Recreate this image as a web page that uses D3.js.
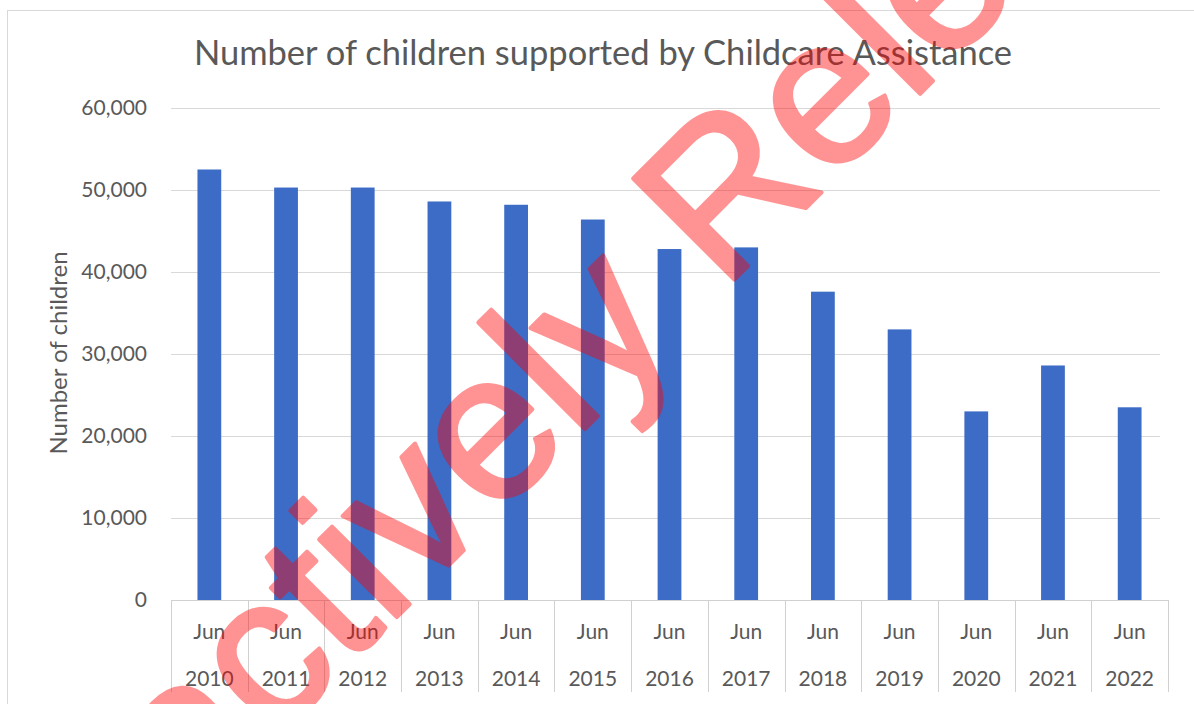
<!DOCTYPE html>
<html>
<head>
<meta charset="utf-8">
<script src="https://cdn.jsdelivr.net/npm/d3@7"></script>
<style>
  html, body { margin: 0; padding: 0; background: #fff; }
  svg { display: block; }
</style>
</head>
<body>
<svg id="chart" width="1194" height="704"></svg>
<script>
// data
const months = ["Jun", "Jun", "Jun", "Jun", "Jun", "Jun", "Jun", "Jun", "Jun", "Jun", "Jun", "Jun", "Jun"];
const years = ["2010", "2011", "2012", "2013", "2014", "2015", "2016", "2017", "2018", "2019", "2020", "2021", "2022"];
const children = [52500, 50300, 50300, 48600, 48200, 46400, 42800, 43000, 37600, 33000, 23000, 28600, 23500];
const yTicks = [0, 10000, 20000, 30000, 40000, 50000, 60000];

const titleText = "Number of children supported by Childcare Assistance";
const yTitle = "Number of children";
const stampText = "Proactively Released";

const svg = d3.select("#chart");
const width = 1194;
const height = 704;
const textColor = "#595959";
const font = "Lato, 'Open Sans', sans-serif";

// chart frame
svg.append("rect")
  .attr("x", 7.5).attr("y", 10.5)
  .attr("width", width).attr("height", height)
  .attr("fill", "#fff")
  .attr("stroke", "#d9d9d9");

const x = d3.scaleBand()
  .domain(years)
  .range([171, 1168])
  .paddingInner(0.69)
  .paddingOuter(0.345);

const y = d3.scaleLinear()
  .domain([0, 60000])
  .range([600, 108]);

// gridlines
svg.append("g")
  .selectAll("line")
  .data(yTicks.filter((d) => d > 0))
  .enter()
  .append("line")
  .attr("x1", 171).attr("x2", 1160)
  .attr("y1", (d) => Math.round(y(d)) + 0.5)
  .attr("y2", (d) => Math.round(y(d)) + 0.5)
  .attr("stroke", "#d9d9d9")
  .attr("stroke-width", 1);

// bars
svg.append("g")
  .selectAll("rect")
  .data(children)
  .enter()
  .append("rect")
  .attr("x", (d, i) => x(years[i]))
  .attr("y", (d) => y(d))
  .attr("width", x.bandwidth())
  .attr("height", (d) => y(0) - y(d))
  .attr("fill", "#3d6cc6");

// x axis line + category separators
const step = x.step();
const x0 = x.range()[0];
svg.append("line")
  .attr("x1", x0).attr("x2", x.range()[1])
  .attr("y1", y(0) + 0.5).attr("y2", y(0) + 0.5)
  .attr("stroke", "#d0d0d0");

svg.append("g")
  .selectAll("line")
  .data(d3.range(years.length + 1))
  .enter()
  .append("line")
  .attr("x1", (i) => Math.round(x0 + i * step) + 0.5)
  .attr("x2", (i) => Math.round(x0 + i * step) + 0.5)
  .attr("y1", y(0))
  .attr("y2", 692)
  .attr("stroke", "#d0d0d0");

// x labels (two levels)
const xLab = svg.append("g")
  .attr("font-family", font)
  .attr("font-size", 21)
  .attr("fill", textColor)
  .attr("text-anchor", "middle");

xLab.selectAll("text.month")
  .data(months)
  .enter()
  .append("text")
  .attr("class", "month")
  .attr("x", (d, i) => x(years[i]) + x.bandwidth() / 2)
  .attr("y", 639)
  .text((d) => d);

xLab.selectAll("text.year")
  .data(years)
  .enter()
  .append("text")
  .attr("class", "year")
  .attr("x", (d) => x(d) + x.bandwidth() / 2)
  .attr("y", 686)
  .text((d) => d);

// y axis labels
const fmt = d3.format(",");
svg.append("g")
  .attr("font-family", font)
  .attr("font-size", 21)
  .attr("fill", textColor)
  .attr("text-anchor", "end")
  .selectAll("text")
  .data(yTicks)
  .enter()
  .append("text")
  .attr("x", 147)
  .attr("y", (d) => y(d) + 7)
  .text((d) => fmt(d));

// y axis title
svg.append("text")
  .attr("transform", "translate(67,353) rotate(-90)")
  .attr("text-anchor", "middle")
  .attr("font-family", font)
  .attr("font-size", 24)
  .attr("fill", textColor)
  .text(yTitle);

// chart title
svg.append("text")
  .attr("x", 603)
  .attr("y", 65)
  .attr("text-anchor", "middle")
  .attr("font-family", font)
  .attr("font-size", 34.5)
  .attr("fill", textColor)
  .text(titleText);

// red stamp across the chart, pinned by the foot of the "R" stem
const stampSize = 208;
const stampG = svg.append("g").attr("opacity", 0.42);
const stamp = stampG.append("text")
  .attr("font-family", "'Liberation Sans', Arial, sans-serif")
  .attr("font-size", stampSize)
  .attr("fill", "#ff0000")
  .attr("stroke", "#ff0000")
  .attr("stroke-width", 4)
  .attr("stroke-linejoin", "round")
  .text(stampText);

const rPos = stamp.node().getStartPositionOfChar(stampText.indexOf("R"));
stamp.attr("transform",
  `translate(741,273) rotate(-45) translate(${-(rPos.x + 0.128 * stampSize)},${-rPos.y})`);
</script>
</body>
</html>
